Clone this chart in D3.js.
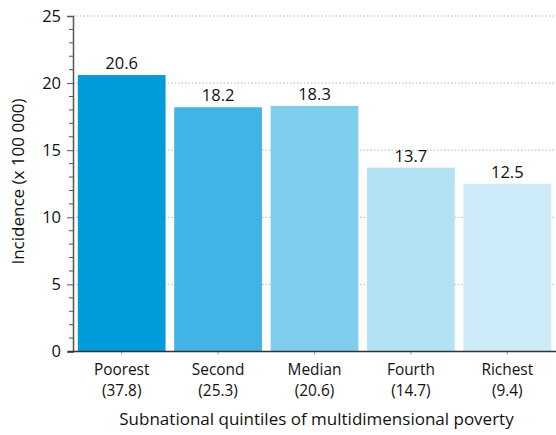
<!DOCTYPE html>
<html>
<head>
<meta charset="utf-8">
<script src="https://cdn.jsdelivr.net/npm/d3@7"></script>
<style>
  html, body { margin: 0; padding: 0; background: #fff; }
  svg { display: block; font-family: "Open Sans", "Noto Sans", sans-serif; }
</style>
</head>
<body>
<svg id="chart" width="556" height="435"></svg>
<script>
// Incidence per 100 000 by subnational quintile of multidimensional poverty
const categories = ["Poorest", "Second", "Median", "Fourth", "Richest"];
const povertyShares = ["(37.8)", "(25.3)", "(20.6)", "(14.7)", "(9.4)"];
const incidence = [20.6, 18.2, 18.3, 13.7, 12.5];
const barColors = ["#009bdb", "#41b4e5", "#80ceed", "#b3e2f5", "#cdebf8"];
const yTicks = [0, 5, 10, 15, 20, 25];
const yMinorTicks = d3.range(0, 26, 1);

const svg = d3.select("#chart");
const plotLeft = 73, plotRight = 556, plotTop = 16, plotBottom = 351.5;
const labelSize = 16.5, catSize = 15.4, titleSize = 17;

const x = d3.scaleBand()
  .domain(categories)
  .range([plotLeft, plotRight])
  .paddingInner(0.09)
  .paddingOuter(0.05);

const y = d3.scaleLinear().domain([0, 25]).range([plotBottom, plotTop]);

// dotted horizontal gridlines
svg.append("g")
  .selectAll("line")
  .data(yTicks.filter(d => d > 0))
  .join("line")
  .attr("x1", plotLeft).attr("x2", plotRight)
  .attr("y1", d => y(d)).attr("y2", d => y(d))
  .attr("stroke", "#b5b5b5")
  .attr("stroke-width", 1)
  .attr("stroke-dasharray", "1.5,2");

// bars
svg.append("g")
  .selectAll("rect")
  .data(categories)
  .join("rect")
  .attr("x", d => x(d))
  .attr("width", x.bandwidth())
  .attr("y", (d, i) => y(incidence[i]))
  .attr("height", (d, i) => y(0) - y(incidence[i]))
  .attr("fill", (d, i) => barColors[i]);

// value labels
svg.append("g")
  .selectAll("text")
  .data(categories)
  .join("text")
  .attr("x", d => x(d) + x.bandwidth() / 2)
  .attr("y", (d, i) => y(incidence[i]) - 6)
  .attr("text-anchor", "middle")
  .attr("font-size", labelSize)
  .attr("fill", "#111")
  .text((d, i) => incidence[i].toFixed(1));

// minor y ticks
svg.append("g")
  .selectAll("line")
  .data(yMinorTicks.filter(d => d % 5 !== 0))
  .join("line")
  .attr("x1", plotLeft - 4).attr("x2", plotLeft)
  .attr("y1", d => y(d)).attr("y2", d => y(d))
  .attr("stroke", "#555").attr("stroke-width", 1);

// y axis
const yAxis = d3.axisLeft(y).tickValues(yTicks).tickSize(6).tickPadding(6);
const gy = svg.append("g")
  .attr("transform", `translate(${plotLeft},0)`)
  .call(yAxis);
gy.select(".domain").attr("stroke", "#555").attr("stroke-width", 1.5);
gy.selectAll(".tick line").attr("stroke", "#555");
gy.selectAll(".tick text")
  .attr("font-size", labelSize)
  .attr("font-family", "'Open Sans', 'Noto Sans', sans-serif")
  .attr("fill", "#111");

// x axis
const xAxis = d3.axisBottom(x).tickSize(3).tickFormat("");
const gx = svg.append("g")
  .attr("transform", `translate(0,${plotBottom})`)
  .call(xAxis);
gx.select(".domain").remove();
gx.selectAll(".tick line").attr("stroke", "#999");
svg.append("line")
  .attr("x1", plotLeft - 5).attr("x2", plotRight)
  .attr("y1", plotBottom).attr("y2", plotBottom)
  .attr("stroke", "#333").attr("stroke-width", 1.5);

// two-line category labels
const catLabels = svg.append("g")
  .selectAll("text")
  .data(categories)
  .join("text")
  .attr("text-anchor", "middle")
  .attr("font-size", catSize)
  .attr("fill", "#111");
catLabels.append("tspan")
  .attr("x", d => x(d) + x.bandwidth() / 2)
  .attr("y", 375)
  .text(d => d);
catLabels.append("tspan")
  .attr("x", d => x(d) + x.bandwidth() / 2)
  .attr("y", 396)
  .text((d, i) => povertyShares[i]);

// axis titles
svg.append("text")
  .attr("x", 316.5)
  .attr("y", 425)
  .attr("text-anchor", "middle")
  .attr("font-size", titleSize)
  .attr("fill", "#111")
  .text("Subnational quintiles of multidimensional poverty");

svg.append("text")
  .attr("transform", `translate(24,181.5) rotate(-90)`)
  .attr("text-anchor", "middle")
  .attr("font-size", titleSize)
  .attr("fill", "#111")
  .text("Incidence (x 100 000)");
</script>
</body>
</html>
